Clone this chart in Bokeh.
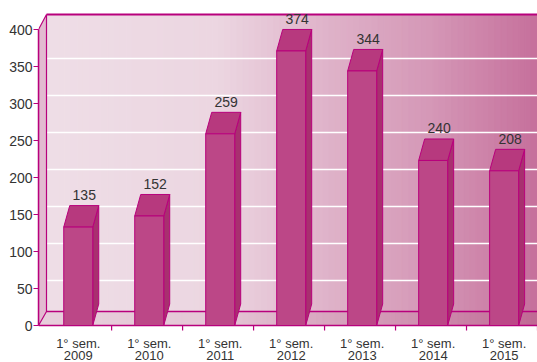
import numpy as np
from bokeh.plotting import figure
from bokeh.models import Range1d, FixedTicker, ColumnDataSource
from bokeh.embed import file_html
from bokeh.resources import INLINE
from bokeh.core.properties import value

# ---- data ----
semesters = ["1° sem."] * 7
years = ["2009", "2010", "2011", "2012", "2013", "2014", "2015"]
values = [135, 152, 259, 374, 344, 240, 208]          # printed labels
bar_heights = [133, 148, 259, 371, 344, 223, 209]     # heights as drawn
y_ticks = [0, 50, 100, 150, 200, 250, 300, 350, 400]

# ---- geometry / style ----
W, H = 537, 362
LEFT = 38
PX_Y = 0.74
Y0_PX = 325
ymin = -(H - Y0_PX) / PX_Y
ymax = Y0_PX / PX_Y
xmin, xmax = -0.03, 7.0
PX_X = (W - LEFT) / (xmax - xmin)


def ux(px):
    return px / PX_X


def uy(px):
    return px / PX_Y


MAG = "#b8007c"
TXT = "#333333"
FONT = "Liberation Sans"

xbl = xmin + ux(8)           # back-left x of the box
floor_back = uy(14)
wall_top = uy(Y0_PX - 14)

stops_px = [46, 220, 330, 430, 537]
stops_rgb = [(239, 222, 231), (236, 214, 225), (223, 178, 201), (213, 152, 183), (198, 112, 156)]


def grad(px, dark=1.0):
    r = np.interp(px, stops_px, [c[0] for c in stops_rgb]) * dark
    g = np.interp(px, stops_px, [c[1] for c in stops_rgb]) * dark
    b = np.interp(px, stops_px, [c[2] for c in stops_rgb]) * dark
    return "#%02x%02x%02x" % (int(r), int(g), int(b))


def grad_floor(px):
    r = np.interp(px, stops_px, [c[0] for c in stops_rgb]) * 0.97
    g = np.interp(px, stops_px, [c[1] for c in stops_rgb]) * 0.93
    b = np.interp(px, stops_px, [c[2] for c in stops_rgb]) * 0.95
    return "#%02x%02x%02x" % (int(r), int(g), int(b))


p = figure(width=W, height=H, x_range=Range1d(xmin, xmax), y_range=Range1d(ymin, ymax),
           output_backend="svg", toolbar_location=None, x_axis_location=None,
           min_border_left=LEFT, min_border_right=0, min_border_top=0, min_border_bottom=0)
p.xgrid.visible = False
p.ygrid.visible = False
p.outline_line_color = None
p.background_fill_color = "white"
p.border_fill_color = "white"

# back wall gradient strips
n = 80
edges = np.linspace(xbl, xmax, n + 1)
lefts, rights, wcols, fcols = [], [], [], []
for i in range(n):
    lefts.append(edges[i])
    rights.append(edges[i + 1])
    mid_px = LEFT + ((edges[i] + edges[i + 1]) / 2 - xmin) * PX_X
    wcols.append(grad(mid_px))
    fcols.append(grad_floor(mid_px))
p.quad(left=lefts, right=rights, bottom=floor_back, top=wall_top,
       fill_color=wcols, line_color=wcols, line_width=1)

# gridlines on back wall
gv = [v for v in y_ticks if 0 < v < 400]
p.segment(x0=[xbl] * len(gv), x1=[xmax] * len(gv), y0=[v + uy(8) for v in gv],
          y1=[v + uy(8) for v in gv], line_color="white", line_width=1.6)
p.segment(x0=[xbl], x1=[xmax], y0=[wall_top], y1=[wall_top], line_color=MAG, line_width=2)

# floor
p.quad(left=lefts, right=rights, bottom=0, top=floor_back,
       fill_color=fcols, line_color=fcols, line_width=1)
p.patch(x=[xmin, xbl, xbl], y=[0, 0, floor_back], fill_color=fcols[0], line_color=None)
p.segment(x0=[xbl], x1=[xmax], y0=[floor_back], y1=[floor_back], line_color=MAG, line_width=1.5)

# left wall
p.patch(x=[xmin, xmin, xbl, xbl], y=[0, 400, wall_top, floor_back],
        fill_color="#e2bad0", line_color=MAG, line_width=1.2)

# front floor edge
p.segment(x0=[xmin], x1=[xmax], y0=[0], y1=[0], line_color=MAG, line_width=1.6)

# bars
bw = ux(29)
dx = ux(6)
dy = uy(21.5)
centers = [i + 0.53 for i in range(len(years))]
fx_l = [c - bw / 2 for c in centers]
fx_r = [c + bw / 2 for c in centers]
side_xs = [[r, r + dx, r + dx, r] for r in fx_r]
side_ys = [[0, dy, h + dy, h] for h in bar_heights]
top_xs = [[l, l + dx, r + dx, r] for l, r in zip(fx_l, fx_r)]
top_ys = [[h, h + dy, h + dy, h] for h in bar_heights]
p.patches(xs=side_xs, ys=side_ys, fill_color="#a8306f", line_color=MAG, line_width=1)
p.patches(xs=top_xs, ys=top_ys, fill_color="#b7397e", line_color=MAG, line_width=1)
p.quad(left=fx_l, right=fx_r, bottom=0, top=bar_heights,
       fill_color="#bc4787", line_color=MAG, line_width=1)

# value labels
lab = ColumnDataSource(dict(x=[c + dx for c in centers],
                            y=[h + dy + uy(10.5) for h in bar_heights],
                            t=[str(v) for v in values]))
p.text(x="x", y="y", text="t", source=lab, text_align="center", text_baseline="middle",
       text_font=value(FONT), text_font_size="14px", text_color=TXT)

# x ticks at category boundaries
bx = list(range(1, len(years) + 1))
p.segment(x0=bx, x1=bx, y0=[0] * len(bx), y1=[-uy(5)] * len(bx), line_color=MAG, line_width=1.2)

# category labels
p.text(x=centers, y=[-uy(17.5)] * len(centers), text=semesters, text_align="center",
       text_baseline="middle", text_font=value(FONT), text_font_size="13px", text_color=TXT)
p.text(x=centers, y=[-uy(30)] * len(centers), text=years, text_align="center",
       text_baseline="middle", text_font=value(FONT), text_font_size="13px", text_color=TXT)

# y axis
ax = p.yaxis[0]
ax.ticker = FixedTicker(ticks=y_ticks)
ax.bounds = (0, 400)
ax.axis_line_color = MAG
ax.axis_line_width = 1.5
ax.major_tick_line_color = MAG
ax.major_tick_out = 5
ax.major_tick_in = 0
ax.minor_tick_out = 0
ax.minor_tick_in = 0
ax.major_label_standoff = 1
ax.major_label_text_font = FONT
ax.major_label_text_font_size = "14px"
ax.major_label_text_color = TXT

open("out.html", "w").write(file_html(p, INLINE))
